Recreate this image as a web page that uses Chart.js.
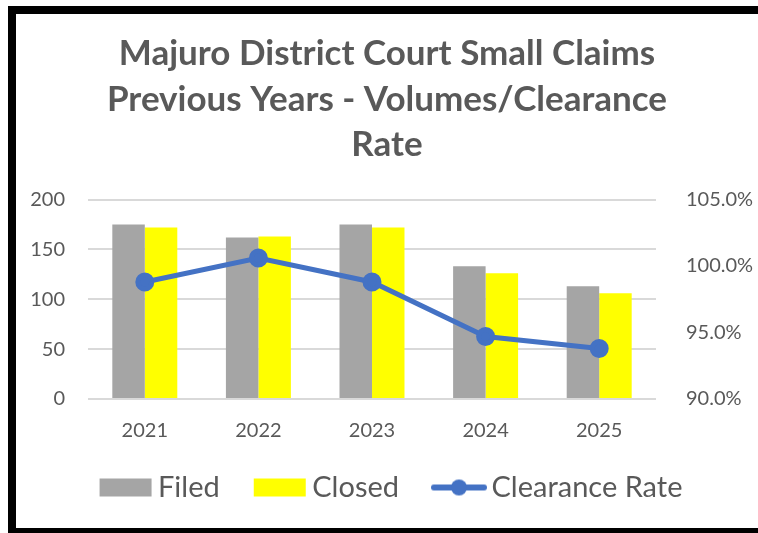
<!DOCTYPE html>
<html>
<head>
<meta charset="utf-8">
<script src="https://cdn.jsdelivr.net/npm/chart.js@4.4.1/dist/chart.umd.min.js"></script>
<style>
  html, body { margin: 0; padding: 0; background: #fff; overflow: hidden; width: 758px; height: 533px; }
  #frame {
    position: absolute; left: 8px; top: 6px;
    width: 760px; height: 514px; overflow: hidden;
    border: 8px solid #000; border-right: none; background: #fff;
  }
  #wrap { position: absolute; left: 0; top: 0; width: 742px; height: 510px; }
</style>
</head>
<body>
<div id="frame"><div id="wrap"><canvas id="c"></canvas></div></div>
<script>
// chart data
const years = ['2021', '2022', '2023', '2024', '2025'];
const filed = [175, 162, 175, 133, 113];
const closed = [172, 163, 172, 126, 106];
const clearance = [98.8, 100.6, 98.8, 94.7, 93.8];

const GREY_TXT = '#595959';
const FONT = 'Lato, "Open Sans", sans-serif';

// legend swatches drawn as little canvases so bars and line can sit side by side
const swatch = (draw) => {
  const c = document.createElement('canvas');
  c.width = 56; c.height = 20;
  draw(c.getContext('2d'));
  return c;
};
const boxFiled = swatch(g => { g.fillStyle = '#a5a5a5'; g.fillRect(2, 1, 52, 18); });
const boxClosed = swatch(g => { g.fillStyle = '#ffff00'; g.fillRect(2, 1, 52, 18); });
const boxLine = swatch(g => {
  g.strokeStyle = '#4472c4'; g.lineWidth = 6; g.lineCap = 'round';
  g.beginPath(); g.moveTo(3, 10); g.lineTo(53, 10); g.stroke();
  g.fillStyle = '#4472c4'; g.beginPath(); g.arc(28, 10, 8, 0, Math.PI * 2); g.fill();
});

// legend sits a bit right of centre and closer to the axis in the original
const nudgeLegend = {
  id: 'nudgeLegend',
  afterLayout(chart) {
    const l = chart.legend;
    l.left += 8; l.right += 8; l.top -= 12; l.bottom -= 12;
  },
};

new Chart(document.getElementById('c'), {
  data: {
    labels: years,
    datasets: [
      { type: 'line', label: 'Clearance Rate', data: clearance, yAxisID: 'y2',
        borderColor: '#4472c4', backgroundColor: '#4472c4', borderWidth: 5,
        pointRadius: 7, pointHoverRadius: 7, tension: 0, order: 0 },
      { type: 'bar', label: 'Filed', data: filed, yAxisID: 'y',
        backgroundColor: '#a5a5a5', categoryPercentage: 0.572, barPercentage: 1, order: 1 },
      { type: 'bar', label: 'Closed', data: closed, yAxisID: 'y',
        backgroundColor: '#ffff00', categoryPercentage: 0.572, barPercentage: 1, order: 1 },
    ],
  },
  plugins: [nudgeLegend],
  options: {
    responsive: true, maintainAspectRatio: false, animation: false,
    layout: { padding: 0 },
    plugins: {
      title: {
        display: true,
        text: ['Majuro District Court Small Claims', 'Previous Years - Volumes/Clearance', 'Rate'],
        color: GREY_TXT, font: { family: FONT, size: 35, weight: 'bold', lineHeight: 1.3 },
        padding: { top: 17, bottom: 32 },
      },
      legend: {
        position: 'bottom',
        labels: {
          color: GREY_TXT, font: { family: FONT, size: 29 },
          usePointStyle: true, pointStyleWidth: 36, boxHeight: 20, padding: 42,
          generateLabels: (chart) => {
            const order = [1, 2, 0];
            const imgs = { 0: boxLine, 1: boxFiled, 2: boxClosed };
            return order.map(i => ({
              text: chart.data.datasets[i].label, datasetIndex: i,
              pointStyle: imgs[i], fillStyle: 'transparent', strokeStyle: 'transparent',
              lineWidth: 0, fontColor: GREY_TXT, hidden: false,
            }));
          },
        },
      },
      tooltip: { enabled: false },
    },
    scales: {
      x: {
        grid: { display: false }, border: { display: false },
        ticks: { color: GREY_TXT, font: { family: FONT, size: 20 }, padding: 12 },
        afterFit: (s) => { s.height = 44; },
      },
      y: {
        position: 'left', min: 0, max: 200,
        grid: { color: '#d9d9d9', lineWidth: 2, drawTicks: false }, border: { display: false },
        ticks: { stepSize: 50, color: GREY_TXT, font: { family: FONT, size: 20 }, padding: 23 },
        afterFit: (s) => { s.width = 72; },
      },
      y2: {
        position: 'right', min: 90, max: 105,
        grid: { display: false }, border: { display: false },
        ticks: { stepSize: 5, color: GREY_TXT, font: { family: FONT, size: 20 }, padding: 22,
          callback: (v) => v.toFixed(1) + '%' },
        afterFit: (s) => { s.width = 102; },
      },
    },
  },
});
</script>
</body>
</html>
